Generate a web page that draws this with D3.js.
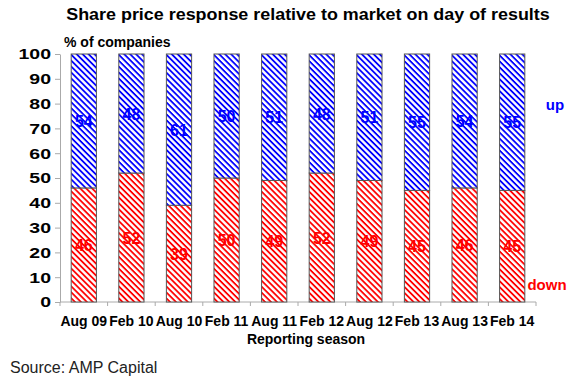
<!DOCTYPE html>
<html>
<head>
<meta charset="utf-8">
<script src="https://cdn.jsdelivr.net/npm/d3@7"></script>
<style>
body { margin: 0; background: #fff; }
text { font-family: Arial, "Liberation Sans", sans-serif; }
</style>
</head>
<body>
<div id="chart"></div>
<script>
// reporting seasons and % of companies moving down / up vs market
const seasons = ["Aug 09", "Feb 10", "Aug 10", "Feb 11", "Aug 11", "Feb 12", "Aug 12", "Feb 13", "Aug 13", "Feb 14"];
const downPct = [46, 52, 39, 50, 49, 52, 49, 45, 46, 45];
const upPct   = [54, 48, 61, 50, 51, 48, 51, 55, 54, 55];
const yTicks  = [0, 10, 20, 30, 40, 50, 60, 70, 80, 90, 100];

const width = 580, height = 388;
const margin = {top: 54, right: 44, bottom: 86, left: 60};

const svg = d3.select('#chart')
  .append('svg')
  .attr('width', width)
  .attr('height', height);

// diagonal hatch patterns (lines running top-left to bottom-right)
function hatch(id, color) {
  const p = svg.append('defs').append('pattern')
    .attr('id', id)
    .attr('patternUnits', 'userSpaceOnUse')
    .attr('width', 4.2)
    .attr('height', 4.2)
    .attr('patternTransform', 'rotate(45)');
  p.append('rect').attr('width', 4.2).attr('height', 4.2).attr('fill', '#fff');
  p.append('rect').attr('width', 4.2).attr('height', 1.8).attr('fill', color);
}
hatch('hatchRed', '#ff0000');
hatch('hatchBlue', '#0000ff');

const x = d3.scaleBand()
  .domain(seasons)
  .range([margin.left, width - margin.right])
  .paddingInner(0.47)
  .paddingOuter(0.235);

const y = d3.scaleLinear()
  .domain([0, 100])
  .range([height - margin.bottom, margin.top]);

// text that is drawn a bit wider than the font, like the original
function wideText(px, py, sx) {
  return svg.append('text')
    .attr('transform', `translate(${px},${py}) scale(${sx},1)`);
}

// title
wideText(308, 20, 1.12)
  .attr('text-anchor', 'middle')
  .style('font-size', '16px').style('font-weight', 'bold')
  .text('Share price response relative to market on day of results');

svg.append('text')
  .attr('x', 64).attr('y', 47)
  .style('font-size', '14px').style('font-weight', 'bold')
  .text('% of companies');

// y axis
const yAxis = svg.append('g')
  .attr('transform', `translate(${margin.left},0)`)
  .call(d3.axisLeft(y).tickValues(yTicks).tickSize(5).tickSizeOuter(0));
yAxis.selectAll('text')
  .attr('x', -9 / 1.3)
  .attr('transform', 'scale(1.3,1)')
  .style('font-size', '15px').style('font-weight', 'bold').attr('fill', '#000');
yAxis.select('.domain').attr('stroke', '#aaa');
yAxis.selectAll('.tick line').attr('stroke', '#aaa');

// x axis: ticks between categories
const xAxisG = svg.append('g')
  .attr('transform', `translate(0,${y(0)})`);
xAxisG.append('line')
  .attr('x1', margin.left).attr('x2', width - margin.right)
  .attr('stroke', '#aaa');
xAxisG.selectAll('line.sep')
  .data(d3.range(seasons.length + 1))
  .enter().append('line')
  .attr('class', 'sep')
  .attr('x1', function(i) { return margin.left + i * x.step(); })
  .attr('x2', function(i) { return margin.left + i * x.step(); })
  .attr('y1', 0).attr('y2', 4)
  .attr('stroke', '#aaa');
xAxisG.selectAll('text')
  .data(seasons)
  .enter().append('text')
  .attr('x', function(d) { return x(d) + x.bandwidth() / 2; })
  .attr('y', 24)
  .attr('text-anchor', 'middle')
  .style('font-size', '14px').style('font-weight', 'bold')
  .text(function(d) { return d; });

svg.append('text')
  .attr('x', 306).attr('y', 344)
  .attr('text-anchor', 'middle')
  .style('font-size', '14px').style('font-weight', 'bold')
  .text('Reporting season');

// bars
const bars = svg.append('g').selectAll('g')
  .data(seasons)
  .enter().append('g');

bars.append('rect')
  .attr('x', function(d) { return x(d); })
  .attr('width', x.bandwidth())
  .attr('y', function(d, i) { return y(downPct[i]); })
  .attr('height', function(d, i) { return y(0) - y(downPct[i]); })
  .attr('fill', 'url(#hatchRed)')
  .attr('stroke', '#555').attr('stroke-width', 1);

bars.append('rect')
  .attr('x', function(d) { return x(d); })
  .attr('width', x.bandwidth())
  .attr('y', function(d, i) { return y(downPct[i] + upPct[i]); })
  .attr('height', function(d, i) { return y(downPct[i]) - y(downPct[i] + upPct[i]); })
  .attr('fill', 'url(#hatchBlue)')
  .attr('stroke', '#555').attr('stroke-width', 1);

bars.append('text')
  .attr('x', function(d) { return x(d) + x.bandwidth() / 2; })
  .attr('y', function(d, i) { return y(downPct[i] / 2) + 6; })
  .attr('text-anchor', 'middle')
  .attr('fill', '#ff0000')
  .style('font-size', '16px').style('font-weight', 'bold')
  .text(function(d, i) { return downPct[i]; });

bars.append('text')
  .attr('x', function(d) { return x(d) + x.bandwidth() / 2; })
  .attr('y', function(d, i) { return y(downPct[i] + upPct[i] / 2) + 6; })
  .attr('text-anchor', 'middle')
  .attr('fill', '#0000ff')
  .style('font-size', '16px').style('font-weight', 'bold')
  .text(function(d, i) { return upPct[i]; });

// series labels
svg.append('text')
  .attr('x', 555).attr('y', 110)
  .attr('text-anchor', 'middle')
  .attr('fill', '#0000ff')
  .style('font-size', '15px').style('font-weight', 'bold')
  .text('up');

svg.append('text')
  .attr('x', 547).attr('y', 290)
  .attr('text-anchor', 'middle')
  .attr('fill', '#ff0000')
  .style('font-size', '15px').style('font-weight', 'bold')
  .text('down');

// source
svg.append('text')
  .attr('x', 10).attr('y', 373)
  .style('font-size', '16px')
  .attr('fill', '#222')
  .text('Source: AMP Capital');
</script>
</body>
</html>
